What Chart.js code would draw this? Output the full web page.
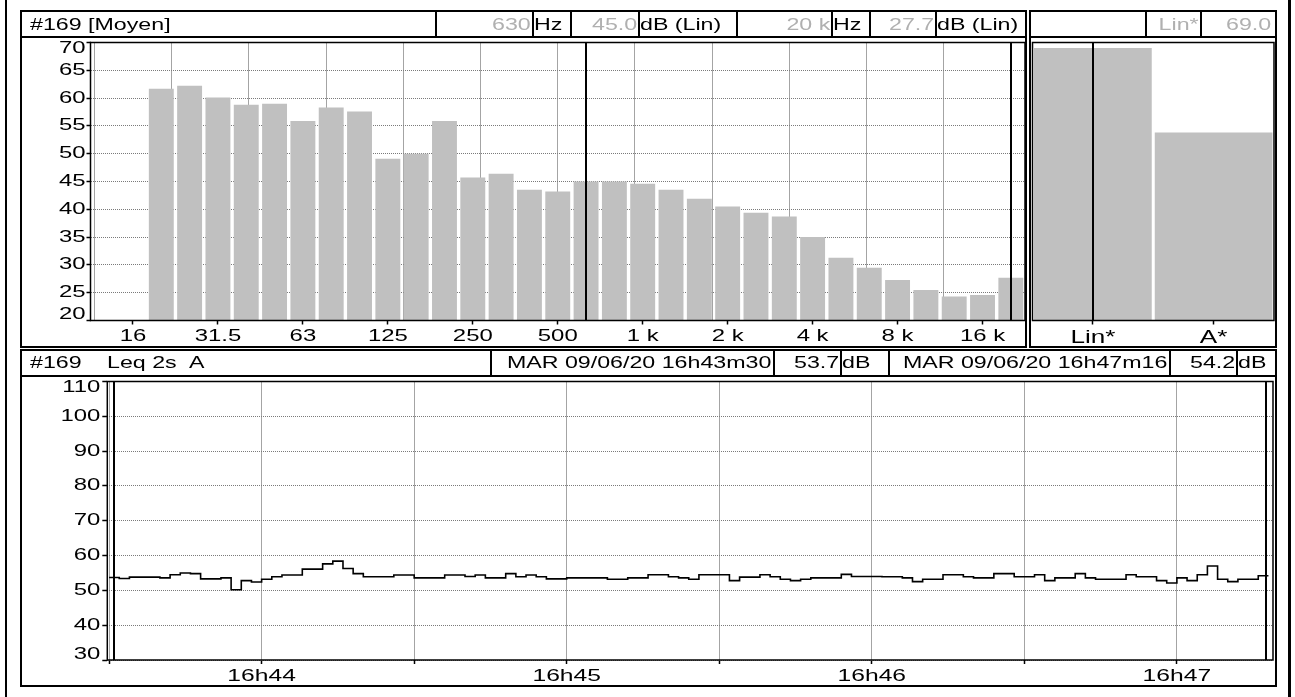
<!DOCTYPE html>
<html lang="fr">
<head>
<meta charset="utf-8">
<title>#169 [Moyen]</title>
<script src="https://cdn.jsdelivr.net/npm/chart.js@4.4.1/dist/chart.umd.min.js"></script>
<style>
  html, body { margin: 0; padding: 0; background: #fff; }
  body { position: relative; width: 1295px; height: 697px; overflow: hidden;
         font-family: "Liberation Sans", Arial, sans-serif; }
  .box { position: absolute; box-sizing: border-box; border: 2px solid #000; }
  .rule { position: absolute; background: #000; }
  .txt { position: absolute; white-space: nowrap; }
  canvas { position: absolute; left: 0; top: 0; width: 1295px; height: 697px; }
</style>
</head>
<body>
<canvas id="bands" width="1295" height="697"></canvas>
<canvas id="globals" width="1295" height="697"></canvas>
<canvas id="history" width="1295" height="697"></canvas>
<script>
// ---- third-octave spectrum (averaged), dB Lin ----
const bandLabels = ['12.5','16','20','25','31.5','40','50','63','80','100','125','160','200',
  '250','315','400','500','630','800','1 k','1.25 k','1.6 k','2 k','2.5 k','3.15 k','4 k',
  '5 k','6.3 k','8 k','10 k','12.5 k','16 k','20 k'];
const bandLevels = [null, null, 61.7, 62.2, 60.1, 58.8, 59.0, 55.9, 58.3, 57.6, 49.1, 50.0,
  55.9, 45.7, 46.4, 43.5, 43.2, 45.0, 45.0, 44.6, 43.5, 41.9, 40.5, 39.4, 38.7, 35.0, 31.3,
  29.5, 27.3, 25.5, 24.3, 24.6, 27.7];
const octaveLabels = ['16','31.5','63','125','250','500','1 k','2 k','4 k','8 k','16 k'];
const bandCursors = ['630', '20 k'];

// ---- global levels ----
const globalLabels = ['Lin*', 'A*'];
const globalLevels = [69.0, 53.8];
const globalCursor = 'Lin*';

// ---- Leq 2s A time history (seconds after 16h43m00) ----
const leqStartSec = 30;
const leqStepSec = 2;
const leqLevels = [53.7,
  53.4, 53.8, 53.8, 53.8, 53.6, 54.5, 55.0, 54.8, 53.3, 53.3,
  53.6, 50.2, 52.8, 52.4, 53.2, 53.9, 54.4, 54.4, 56.1, 56.1,
  57.6, 58.4, 56.3, 54.8, 53.9, 53.9, 53.9, 54.4, 54.4, 53.6,
  53.6, 53.6, 54.4, 54.4, 54.0, 54.4, 53.6, 53.6, 54.8, 53.9,
  54.4, 53.9, 53.3, 53.3, 53.6, 53.6, 53.6, 53.6, 53.2, 53.2,
  53.6, 53.6, 54.5, 54.5, 53.9, 53.6, 53.2, 54.5, 54.5, 54.5,
  52.8, 53.8, 53.8, 54.5, 53.9, 53.2, 52.8, 53.2, 53.6, 53.6,
  53.6, 54.6, 54.0, 54.0, 54.0, 53.9, 53.9, 53.6, 52.5, 53.2,
  53.2, 54.5, 54.5, 53.9, 53.6, 53.6, 54.8, 54.8, 53.9, 53.9,
  54.5, 52.8, 53.6, 53.6, 54.8, 53.6, 53.2, 53.2, 53.2, 54.5,
  53.9, 53.9, 52.8, 52.1, 53.6, 52.8, 54.5, 57.0, 53.2, 52.5,
  53.2, 53.2, 54.2];
const timeTicks = [30, 60, 90, 120, 150, 180, 210, 240];
const historyCursors = [31.0, 257.6];
const startStamp = 'MAR 09/06/20 16h43m30';
const endStamp = 'MAR 09/06/20 16h47m16';

// ---- page furniture ----
const TEXT_STRETCH = 1.45;
const FONT = '"Liberation Sans", Arial, sans-serif';
const GREY_TEXT = '#b0b0b0';
const HEAD_SIZE = 16;

function box(x1, y1, x2, y2) {
  const d = document.createElement('div');
  d.className = 'box';
  Object.assign(d.style, { left: x1 + 'px', top: y1 + 'px', width: (x2 - x1) + 'px', height: (y2 - y1) + 'px' });
  document.body.appendChild(d);
}
function rule(x, y, w, h) {
  const d = document.createElement('div');
  d.className = 'rule';
  Object.assign(d.style, { left: x + 'px', top: y + 'px', width: w + 'px', height: h + 'px' });
  document.body.appendChild(d);
}
function text(str, x, cy, align, color, size) {
  const d = document.createElement('div');
  d.className = 'txt';
  d.textContent = str;
  size = size || HEAD_SIZE;
  Object.assign(d.style, {
    fontSize: size + 'px', lineHeight: (size * 1.2) + 'px', top: (cy - size * 0.6) + 'px',
    color: color || '#000', transform: 'scaleX(' + TEXT_STRETCH + ')'
  });
  if (align === 'right') { d.style.right = (1295 - x) + 'px'; d.style.transformOrigin = 'right center'; }
  else { d.style.left = x + 'px'; d.style.transformOrigin = 'left center'; }
  document.body.appendChild(d);
}

// outer page edges
rule(5, 0, 2, 697);
rule(1288, 0, 3, 697);

// spectrum panel + header
box(20, 10, 1027, 348);
rule(20, 36, 1007, 2);
text('#169 [Moyen]', 30, 25);
[435, 532, 570, 638, 736, 831, 869, 935].forEach(x => rule(x, 10, 2, 28));
text(bandCursors[0], 531, 25, 'right', GREY_TEXT);
text('Hz', 534, 25);
text(bandLevels[bandLabels.indexOf(bandCursors[0])].toFixed(1), 637, 25, 'right', GREY_TEXT);
text('dB (Lin)', 640, 25);
text(bandCursors[1], 830, 25, 'right', GREY_TEXT);
text('Hz', 833, 25);
text(bandLevels[bandLabels.indexOf(bandCursors[1])].toFixed(1), 934, 25, 'right', GREY_TEXT);
text('dB (Lin)', 937, 25);

// global panel + header
box(1029, 10, 1277, 348);
rule(1029, 36, 248, 2);
[1145, 1200].forEach(x => rule(x, 10, 2, 28));
text(globalCursor, 1199, 25, 'right', GREY_TEXT);
text(globalLevels[globalLabels.indexOf(globalCursor)].toFixed(1), 1271, 25, 'right', GREY_TEXT);

// time history panel + header
box(20, 349, 1277, 687);
rule(20, 375, 1257, 2);
text('#169', 30, 363);
text('Leq 2s', 107, 363);
text('A', 189, 363);
[490, 773, 840, 888, 1169, 1236].forEach(x => rule(x, 349, 2, 28));
text(startStamp, 771, 363, 'right');
text(leqLevels[0].toFixed(1), 839, 363, 'right');
text('dB', 842, 363);
text(endStamp, 1167, 363, 'right');
text(leqLevels[leqLevels.length - 1].toFixed(1), 1235, 363, 'right');
text('dB', 1238, 363);

// ---- chart helpers ----
// wide instrument lettering: stretch canvas text horizontally around its anchor
const stretchText = {
  id: 'stretchText',
  beforeInit(chart) {
    const ctx = chart.ctx;
    const fill = ctx.fillText;
    ctx.fillText = function (str, x, y, maxWidth) {
      this.save();
      this.translate(x, y);
      this.scale(TEXT_STRETCH, 1);
      if (maxWidth === undefined) fill.call(this, str, 0, 0);
      else fill.call(this, str, 0, 0, maxWidth / TEXT_STRETCH);
      this.restore();
    };
  }
};
// plot frame and measurement cursors
const frame = {
  id: 'frame',
  afterDraw(chart, args, opts) {
    const { ctx, chartArea: a } = chart;
    ctx.save();
    ctx.strokeStyle = '#000';
    ctx.lineWidth = 2;
    (opts.cursors || []).forEach(v => {
      const x = Math.round(chart.scales.x.getPixelForValue(v));
      ctx.beginPath(); ctx.moveTo(x, a.top); ctx.lineTo(x, a.bottom); ctx.stroke();
    });
    ctx.lineWidth = 1.5;
    ctx.strokeRect(a.left, a.top, a.right - a.left, a.bottom - a.top);
    ctx.restore();
  }
};
const edgeLabel = (top, bottom) => (v) =>
  v === top ? ['', String(v)] : v === bottom ? [String(v), ''] : String(v);

Chart.defaults.font.family = FONT;
Chart.defaults.color = '#000';
Chart.defaults.animation = false;

// ---- spectrum chart ----
new Chart(document.getElementById('bands'), {
  type: 'bar',
  data: {
    labels: bandLabels,
    datasets: [{ data: bandLevels, backgroundColor: '#c0c0c0', borderWidth: 0,
                 barPercentage: 0.88, categoryPercentage: 1.0 }]
  },
  options: {
    responsive: false, devicePixelRatio: 1,
    layout: { padding: { left: 50.5, right: 270, top: 42.5, bottom: 351.5 } },
    plugins: { legend: { display: false }, tooltip: { enabled: false }, frame: { cursors: bandCursors } },
    scales: {
      x: {
        type: 'category', offset: true,
        grid: { offset: false, drawOnChartArea: false, tickLength: 4, tickWidth: 1.5,
                tickColor: c => octaveLabels.includes(bandLabels[c.index]) ? '#000' : 'rgba(0,0,0,0)' },
        border: { display: false },
        ticks: { autoSkip: false, maxRotation: 0, minRotation: 0, padding: 2.5,
                 font: { size: 16.5 },
                 callback: (v, i) => octaveLabels.includes(bandLabels[i]) ? bandLabels[i] : '' },
        afterFit: s => { s.height = 25; }
      },
      xg: {
        type: 'linear', position: 'bottom', min: -0.5, max: bandLabels.length - 0.5,
        grid: { color: '#a4a4a4', lineWidth: 1, drawTicks: false },
        border: { display: false },
        ticks: { display: false },
        afterBuildTicks: s => { s.ticks = octaveLabels.map(l => ({ value: bandLabels.indexOf(l) - 1.5 })); },
        afterFit: s => { s.height = 0; }
      },
      y: {
        min: 20, max: 70, z: 1,
        grid: { color: '#7a7a7a', lineWidth: 1, tickLength: 4, tickColor: '#000', tickWidth: 1.5 },
        border: { display: false, dash: [1, 1] },
        ticks: { stepSize: 5, padding: 1, font: { size: 16.5, lineHeight: '12px' },
                 callback: edgeLabel(70, 20) },
        afterFit: s => { s.width = 40; }
      }
    }
  },
  plugins: [stretchText, frame]
});

// ---- global levels chart ----
new Chart(document.getElementById('globals'), {
  type: 'bar',
  data: {
    labels: globalLabels,
    datasets: [{ data: globalLevels, backgroundColor: '#c0c0c0', borderWidth: 0,
                 barPercentage: 0.975, categoryPercentage: 1.0 }]
  },
  options: {
    responsive: false, devicePixelRatio: 1,
    layout: { padding: { left: 1032.5, right: 21, top: 42.5, bottom: 351.5 } },
    plugins: { legend: { display: false }, tooltip: { enabled: false }, frame: { cursors: [globalCursor] } },
    scales: {
      x: {
        type: 'category', offset: true,
        grid: { offset: false, drawOnChartArea: false, tickLength: 4, tickWidth: 1.5, tickColor: '#000' },
        border: { display: false },
        ticks: { maxRotation: 0, padding: 2.5, font: { size: 18 } },
        afterFit: s => { s.height = 25; }
      },
      y: { display: false, min: 20, max: 70 }
    }
  },
  plugins: [stretchText, frame]
});

// ---- Leq time history chart ----
const leqPoints = leqLevels.map((v, i) => ({ x: leqStartSec + i * leqStepSec, y: v }));
leqPoints.push({ x: leqStartSec + leqLevels.length * leqStepSec, y: leqLevels[leqLevels.length - 1] });

new Chart(document.getElementById('history'), {
  type: 'line',
  data: {
    datasets: [{ data: leqPoints, stepped: 'before', borderColor: '#000', borderWidth: 1.6,
                 pointRadius: 0, fill: false }]
  },
  options: {
    responsive: false, devicePixelRatio: 1,
    layout: { padding: { left: 62.3, right: 22, top: 381.5, bottom: 12 } },
    plugins: { legend: { display: false }, tooltip: { enabled: false }, frame: { cursors: historyCursors } },
    scales: {
      x: {
        type: 'linear', min: 29.65, max: 258.9,
        grid: { color: '#a4a4a4', lineWidth: 1, tickLength: 4, tickColor: '#000', tickWidth: 1.5 },
        border: { display: false },
        afterBuildTicks: s => { s.ticks = timeTicks.map(v => ({ value: v })); },
        ticks: { maxRotation: 0, padding: 2.5, font: { size: 17 },
                 callback: v => v % 60 === 0 ? '16h' + (43 + v / 60) : '' },
        afterFit: s => { s.height = 25; }
      },
      y: {
        min: 30, max: 110,
        grid: { color: '#7a7a7a', lineWidth: 1, tickLength: 5, tickColor: '#000', tickWidth: 1.5 },
        border: { display: false, dash: [1, 1] },
        ticks: { stepSize: 10, padding: 2, font: { size: 16.5, lineHeight: '12px' },
                 callback: edgeLabel(110, 30) },
        afterFit: s => { s.width = 45; }
      }
    }
  },
  plugins: [stretchText, frame]
});
</script>
</body>
</html>
